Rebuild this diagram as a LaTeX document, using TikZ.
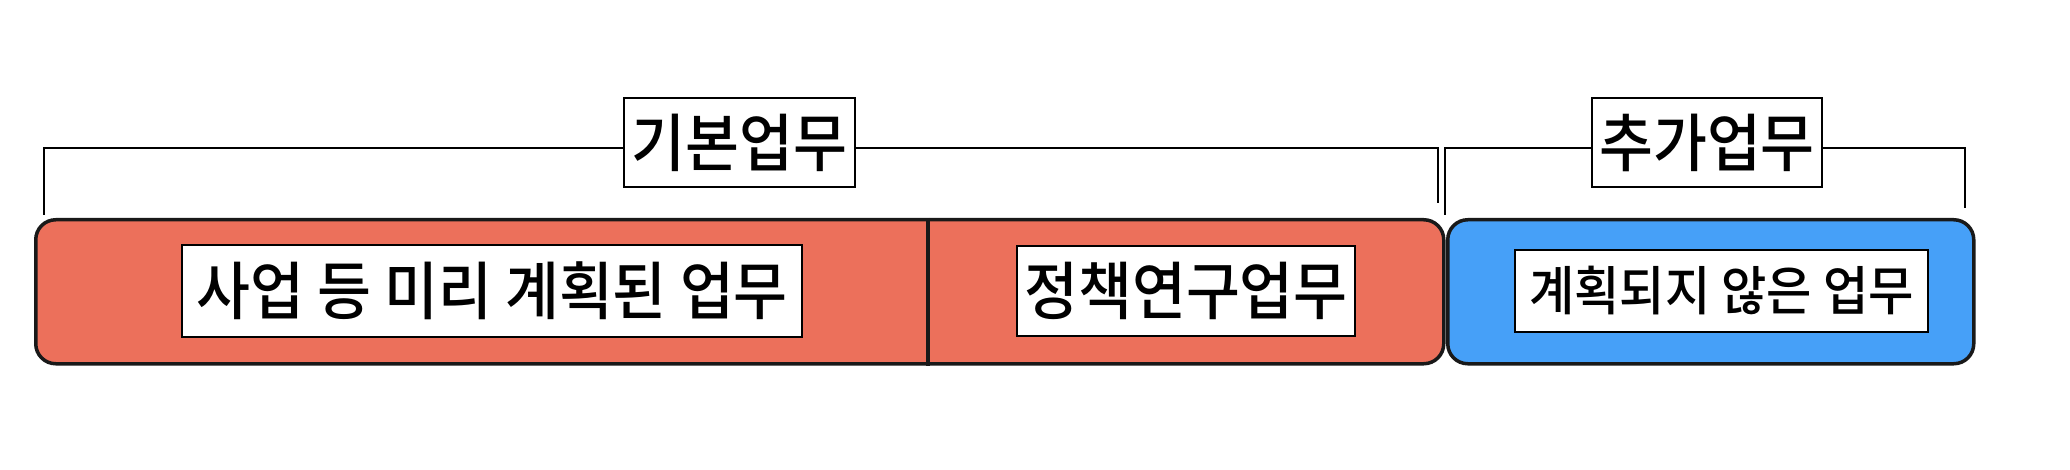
\documentclass[tikz,border=0pt]{standalone}
\usepackage{fontspec}
\newfontfamily\kr[UprightFont=* Medium, FakeStretch=0.93]{Noto Sans CJK KR}
\definecolor{redf}{HTML}{EC705B}
\definecolor{bluef}{HTML}{46A0F8}
\begin{document}
\begin{tikzpicture}[x=1pt,y=-1pt,
  sketch/.style={draw=black!90, line width=3.5pt, rounded corners=20pt, inner sep=0pt},
  sketchline/.style={draw=black!90, line width=3.5pt},
  lab/.style={draw=black, line width=2.5pt, fill=white, inner sep=0pt},
  big/.style={font=\kr\fontsize{63}{68}\selectfont},
  small/.style={font=\kr\fontsize{53}{58}\selectfont},
  br/.style={draw=black, line width=2.5pt}]
\useasboundingbox (0,0) rectangle (2070,470);
% coloured bars
\node[sketch, fill=redf, minimum width=1408pt, minimum height=144pt, anchor=north west] (red) at (34,218) {};
\node[sketch, fill=bluef, minimum width=526pt, minimum height=144pt, anchor=north west] (blue) at (1446,218) {};
\coordinate (dv) at (928,0);
\draw[sketchline] (red.north -| dv) -- (red.south -| dv);
% labels
\node[lab, big, minimum width=620pt, minimum height=92pt] (plan) at (492,291) {사업 등 미리 계획된 업무};
\node[lab, big, minimum width=338pt, minimum height=90pt] (policy) at (1186,291) {정책연구업무};
\node[lab, small, minimum width=413pt, minimum height=82pt] (unplan) at (1721.5,291) {계획되지 않은 업무};
\node[lab, big, minimum width=231pt, minimum height=89pt] (kibon) at (739.5,142.5) {기본업무};
\node[lab, big, minimum width=230pt, minimum height=89pt] (chuga) at (1707,142.5) {추가업무};
% brackets
\coordinate (by) at (0,148);
\coordinate (k1) at (44,215);
\coordinate (k2) at (1438,203);
\coordinate (c1) at (1445,215);
\coordinate (c2) at (1965,208);
\draw[br] (kibon.west |- by) -| (k1);
\draw[br] (kibon.east |- by) -| (k2);
\draw[br] (chuga.west |- by) -| (c1);
\draw[br] (chuga.east |- by) -| (c2);
\end{tikzpicture}
\end{document}
